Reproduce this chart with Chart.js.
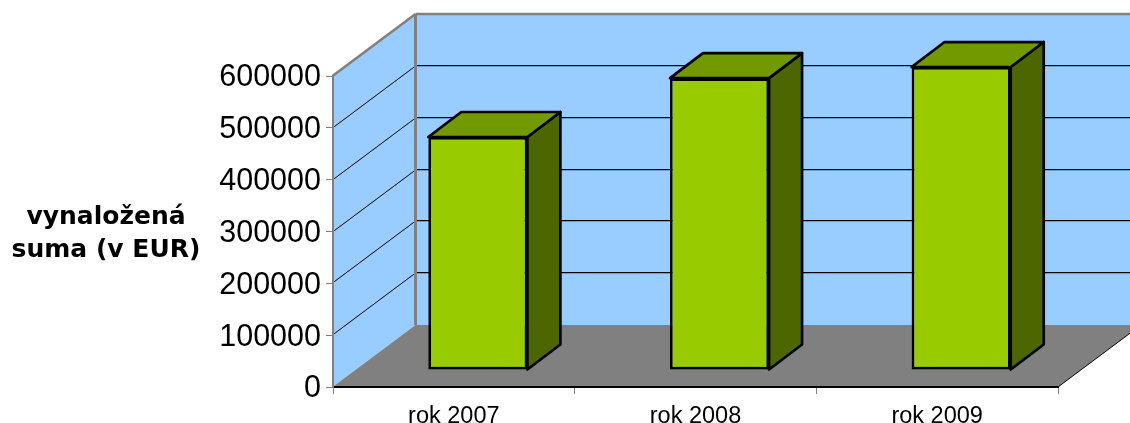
<!DOCTYPE html>
<html><head><meta charset="utf-8">
<style>html,body{margin:0;padding:0;background:#fff}canvas{display:block}</style>
<script src="https://cdn.jsdelivr.net/npm/chart.js@4/dist/chart.umd.js"></script>
</head><body><canvas id="c" width="1130" height="423"></canvas>
<script>
const categories = ["rok 2007", "rok 2008", "rok 2009"];
const values = [449500, 563000, 584500];
const axisTitleLines = ["vynaložená", "suma (v EUR)"];
const yMax = 600000;
const yStep = 100000;

const wallDepth = {dx: 83, dy: -62};
const barShift = {dx: 24, dy: -17};
const barDepth = {dx: 33, dy: -25};

function poly(ctx, pts, fill) {
  ctx.beginPath();
  pts.forEach((p, i) => i ? ctx.lineTo(p[0], p[1]) : ctx.moveTo(p[0], p[1]));
  ctx.closePath();
  if (fill) { ctx.fillStyle = fill; ctx.fill(); }
}
function seg(ctx, a, b, color, w) {
  ctx.strokeStyle = color; ctx.lineWidth = w;
  ctx.beginPath(); ctx.moveTo(a[0], a[1]); ctx.lineTo(b[0], b[1]); ctx.stroke();
}
const threeD = {
  id: "threeD",
  beforeDraw(chart) {
    const {ctx, chartArea: a, scales: {y}} = chart;
    const {dx, dy} = wallDepth;
    const L = a.left - 0.5, R = a.right, T = a.top, B = a.bottom;
    ctx.save();
    poly(ctx, [[L + dx, T + dy], [R + dx, T + dy], [R + dx, B + dy], [L + dx, B + dy]], "#99ccff");
    poly(ctx, [[L, T], [L + dx, T + dy], [L + dx, B + dy], [L, B]], "#99ccff");
    poly(ctx, [[L, B], [L + dx, B + dy], [R + dx, B + dy], [R, B]], "#808080");
    for (let v = 0; v <= yMax; v += yStep) {
      const p = Math.round(y.getPixelForValue(v));
      if (v > 0 && v < yMax) seg(ctx, [L, p], [L + dx, p + dy], "#000", 1);
      if (v > 0 && v < yMax) seg(ctx, [L + dx, p + dy - 0.3], [R + dx, p + dy - 0.3], "#000", 1.2);
    }
    seg(ctx, [L, T], [L + dx, T + dy], "#808080", 2.5);
    seg(ctx, [L + dx, T + dy], [R + dx, T + dy], "#808080", 2.5);
    seg(ctx, [L + dx, T + dy], [L + dx, B + dy], "#808080", 3);
    seg(ctx, [R, B], [R + dx, B + dy], "#000", 1);
    ctx.restore();
    ctx.save();
    ctx.font = "bold 25px 'DejaVu Sans'";
    ctx.fillStyle = "#000";
    ctx.textAlign = "center";
    ctx.textBaseline = "alphabetic";
    ctx.fillText(axisTitleLines[0], 106, 224);
    ctx.fillText(axisTitleLines[1], 106, 257);
    ctx.restore();
  },
  beforeDatasetsDraw(chart) {
    const ctx = chart.ctx;
    ctx.save();
    ctx.translate(barShift.dx, barShift.dy);
    const {dx, dy} = barDepth;
    chart.getDatasetMeta(0).data.forEach(bar => {
      const l = bar.x - bar.width / 2, r = bar.x + bar.width / 2, t = bar.y, b = bar.base;
      ctx.lineJoin = "round";
      ctx.lineWidth = 2.7;
      ctx.strokeStyle = "#000";
      poly(ctx, [[r, t], [r + dx, t + dy], [r + dx, b + dy], [r, b]], "#4d6600");
      ctx.stroke();
      poly(ctx, [[l, t], [l + dx, t + dy], [r + dx, t + dy], [r, t]], "#739900");
      ctx.stroke();
    });
  },
  afterDatasetsDraw(chart) {
    chart.ctx.restore();
  }
};

new Chart(document.getElementById("c"), {
  type: "bar",
  data: {
    labels: categories,
    datasets: [{
      data: values,
      backgroundColor: "#99cc00",
      borderColor: "#000",
      borderWidth: 2.7,
      borderSkipped: false,
      barPercentage: 0.41,
      categoryPercentage: 1,
      clip: false
    }]
  },
  options: {
    responsive: false,
    animation: false,
    layout: {padding: {left: 0, top: 76, right: 72, bottom: 0}},
    plugins: {legend: {display: false}, title: {display: false}, tooltip: {enabled: false}},
    scales: {
      x: {
        afterFit(s) { s.height = 36; },
        border: {color: "#000", width: 2},
        grid: {drawOnChartArea: false, drawTicks: true, tickLength: 7, tickColor: "#808080", offset: true},
        ticks: {color: "#000", font: {family: "'Liberation Sans'", size: 23.5}, padding: 8, maxRotation: 0}
      },
      y: {
        min: 0, max: yMax,
        afterFit(s) { s.width = 333; },
        border: {color: "#808080", width: 2},
        grid: {drawOnChartArea: false, drawTicks: true, tickLength: 7, tickColor: "#808080"},
        ticks: {stepSize: yStep, color: "#000", font: {family: "'Liberation Sans'", size: 30.5}, padding: 5, labelOffset: 2, callback: v => String(v)}
      }
    }
  },
  plugins: [threeD]
});
</script></body></html>
